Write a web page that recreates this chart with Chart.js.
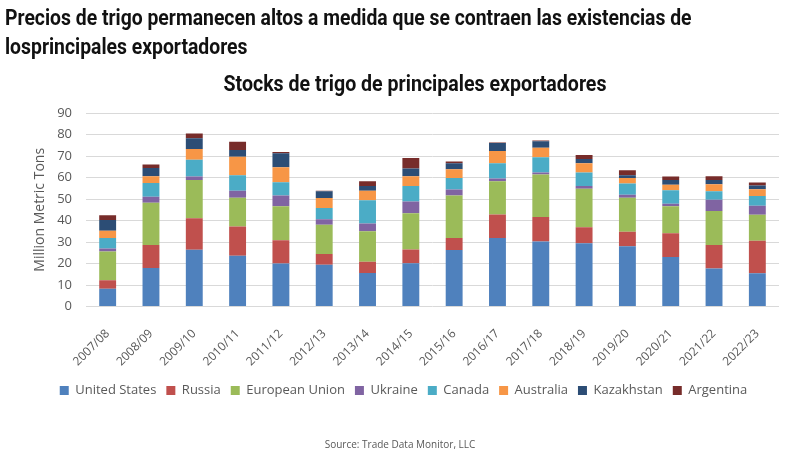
<!DOCTYPE html>
<html>
<head>
<meta charset="utf-8">
<script src="https://cdn.jsdelivr.net/npm/chart.js"></script>
<style>
    body { margin: 0; background: #fff; }
    #pagina { position: relative; width: 800px; height: 459px; overflow: hidden; }
    canvas { position: absolute; left: 0; top: 0; }
    .titulo {
        position: absolute; left: 5px; top: 3px;
        font-family: Roboto, sans-serif; font-weight: 700; font-size: 22px; line-height: 29px;
        color: #111; white-space: nowrap;
        transform: scaleX(0.88); transform-origin: left top;
    }
    .subtitulo {
        position: absolute; left: 15px; width: 800px; top: 71px; text-align: center;
        font-family: Roboto, sans-serif; font-weight: 700; font-size: 22px; color: #111;
        transform: scaleX(0.89); transform-origin: 400px top;
    }
    .fuente {
        position: absolute; left: 0; width: 800px; top: 437px; text-align: center;
        font-family: "Open Sans", sans-serif; font-size: 10px; color: #595959;
    }
</style>
</head>
<body>
<div id="pagina">
    <canvas id="myChart" width="800" height="459"></canvas>
    <div class="titulo">Precios de trigo permanecen altos a medida que se contraen las existencias de<br>losprincipales exportadores</div>
    <div class="subtitulo">Stocks de trigo de principales exportadores</div>
    <div class="fuente">Source: Trade Data Monitor, LLC</div>
</div>
<script>
// Datos (millones de toneladas)
const categorias = ['2007/08', '2008/09', '2009/10', '2010/11', '2011/12', '2012/13', '2013/14', '2014/15',
    '2015/16', '2016/17', '2017/18', '2018/19', '2019/20', '2020/21', '2021/22', '2022/23'];

const estadosUnidos = [8.3, 18.0, 26.4, 23.6, 20.0, 19.4, 15.6, 20.2, 26.3, 31.9, 30.3, 29.4, 28.0, 23.0, 17.7, 15.5];
const rusia = [4.0, 10.6, 14.7, 13.6, 10.9, 5.0, 5.3, 6.4, 5.6, 10.9, 11.4, 7.5, 6.8, 11.1, 10.9, 15.1];
const unionEuropea = [13.3, 19.7, 17.7, 13.4, 15.7, 13.7, 14.1, 16.8, 19.8, 15.5, 19.7, 17.9, 15.8, 12.5, 15.8, 12.1];
const ucrania = [1.4, 2.8, 1.7, 3.3, 5.1, 2.5, 3.6, 5.5, 2.7, 1.2, 0.9, 1.3, 1.4, 1.2, 5.3, 4.2];
const canada = [4.9, 6.4, 7.8, 7.2, 6.1, 5.2, 10.8, 7.2, 5.4, 7.1, 7.1, 6.2, 5.2, 6.3, 3.9, 4.5];
const australia = [3.4, 3.1, 5.0, 8.6, 7.0, 4.7, 4.4, 4.5, 4.0, 5.7, 4.4, 4.3, 2.6, 2.6, 3.3, 3.1];
const kazajistan = [5.0, 3.8, 5.0, 3.1, 6.5, 3.1, 2.3, 3.6, 2.8, 3.8, 3.1, 2.0, 1.3, 2.1, 1.9, 1.8];
const argentina = [2.2, 1.7, 2.2, 3.8, 0.6, 0.3, 2.2, 4.9, 0.9, 0.2, 0.3, 1.9, 2.3, 1.7, 1.8, 1.4];

const ticksY = [0, 10, 20, 30, 40, 50, 60, 70, 80, 90];

const gris = '#595959';

function serie(nombre, datos, color) {
    return { label: nombre, data: datos, backgroundColor: color, borderWidth: 0 };
}

const ctx = document.getElementById('myChart');

new Chart(ctx, {
    type: 'bar',
    data: {
        labels: categorias,
        datasets: [
            serie('United States', estadosUnidos, '#4F81BD'),
            serie('Russia', rusia, '#C0504D'),
            serie('European Union', unionEuropea, '#9BBB59'),
            serie('Ukraine', ucrania, '#8064A2'),
            serie('Canada', canada, '#4BACC6'),
            serie('Australia', australia, '#F79646'),
            serie('Kazakhstan', kazajistan, '#2C4D75'),
            serie('Argentina', argentina, '#772C2A')
        ]
    },
    options: {
        responsive: false,
        animation: false,
        layout: { padding: { top: 113, left: 28, right: 21, bottom: 52 } },
        datasets: { bar: { categoryPercentage: 1, barPercentage: 0.39 } },
        plugins: {
            legend: {
                position: 'bottom',
                labels: {
                    boxWidth: 9, boxHeight: 9, padding: 10, color: gris,
                    font: { family: 'Open Sans', size: 13 }
                }
            },
            tooltip: { enabled: false }
        },
        scales: {
            x: {
                stacked: true,
                afterFit: function (escala) { escala.height -= 7; },
                grid: { display: false },
                border: { display: false },
                ticks: {
                    color: gris, minRotation: 45, maxRotation: 45, padding: 12,
                    font: { family: 'Open Sans', size: 12 }
                }
            },
            y: {
                stacked: true,
                min: 0, max: 90,
                afterFit: function (escala) { escala.width = 58; },
                afterBuildTicks: function (escala) { escala.ticks = ticksY.map(v => ({ value: v })); },
                grid: { color: '#D9D9D9', drawTicks: false },
                border: { display: false },
                ticks: { color: gris, padding: 14, font: { family: 'Open Sans', size: 13 } },
                title: {
                    display: true, text: 'Million Metric Tons', color: gris,
                    font: { family: 'Open Sans', size: 14 }
                }
            }
        }
    }
});
</script>
</body>
</html>
